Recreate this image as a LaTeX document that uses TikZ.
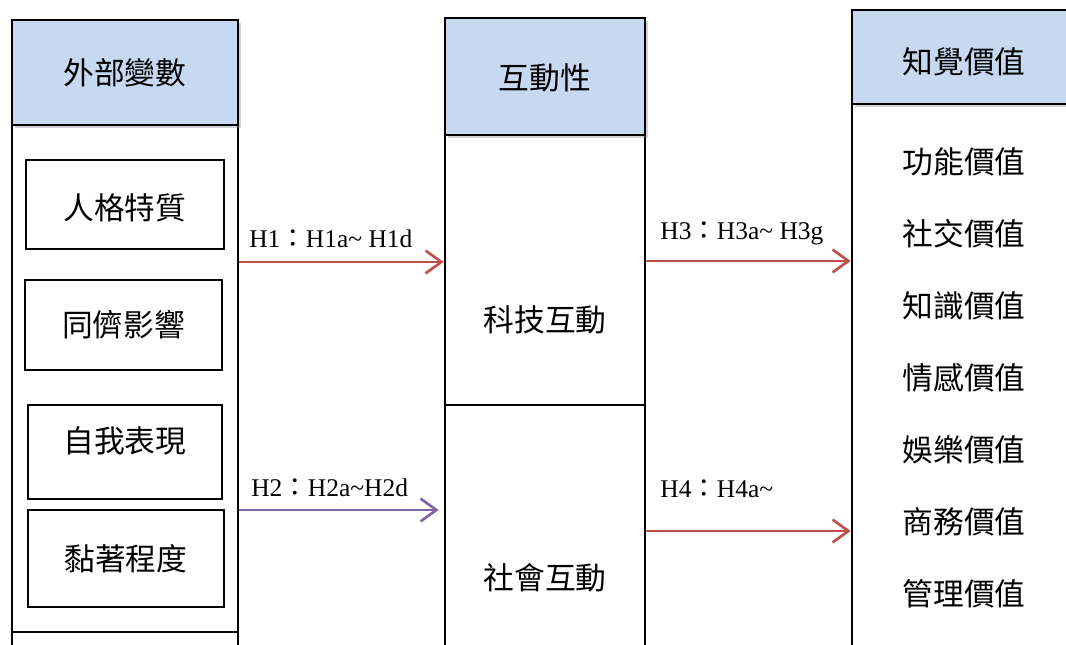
\documentclass[tikz,border=0pt]{standalone}
\usepackage{fontspec}
\setmainfont{Liberation Serif}
\newfontfamily\cjk{Noto Sans CJK TC}
\usetikzlibrary{fit,shadows,arrows.meta}
\definecolor{headblue}{HTML}{C6D9F0}
\definecolor{arrred}{HTML}{C0504D}
\definecolor{arrpurple}{HTML}{8064A2}
\begin{document}
\begin{tikzpicture}[x=0.02cm,y=-0.02cm,
  frame/.style={draw=black,line width=1.6pt,inner sep=0pt},
  head/.style={frame,fill=headblue,drop shadow={opacity=0.35,shadow xshift=1.5pt,shadow yshift=-1.5pt}},
  item/.style={draw=black,line width=1.4pt,inner sep=0pt},
  txt/.style={font=\cjk\fontsize{17.5}{20}\selectfont,inner sep=0pt},
  hyp/.style={font=\fontsize{14.5}{17}\selectfont,inner sep=0pt,anchor=west},
  link/.style={line width=1.5pt,-{Straight Barb[length=9pt,width=13pt,line width=1.5pt]}}]
\useasboundingbox (0,0) rectangle (1066,645);
\clip (0,0) rectangle (1066,645);
% left column
\node[frame,fit={(12,125)(238,632)}] (lbody) {};
\node[frame,fit={(12,632)(238,680)}] (lfoot) {};
\node[head,fit={(12,20)(238,125)}] (lhead) {};
\node[txt] (lheadt) at (125,73) {外部變數};
\node[item,fit={(26,160)(224,249)}] (b1) {};
\node[item,fit={(25,280)(222,370)}] (b2) {};
\node[item,fit={(28,405)(222,499)}] (b3) {};
\node[item,fit={(28,510)(224,607)}] (b4) {};
\node[txt] (b1t) at ([yshift=-0.02cm*3]b1.center) {人格特質};
\node[txt] (b2t) at (b2.center) {同儕影響};
\node[txt] (b3t) at ([yshift=0.02cm*11]b3.center) {自我表現};
\node[txt] (b4t) at (b4.center) {黏著程度};
% middle column
\node[frame,fit={(445,135)(645,405)}] (tech) {};
\node[frame,fit={(445,405)(645,680)}] (social) {};
\node[head,fit={(445,18)(645,135)}] (mhead) {};
\node[txt] (mheadt) at (545,78) {互動性};
\node[txt] (techt) at (545,320) {科技互動};
\node[txt] (socialt) at (545,578) {社會互動};
% right column
\node[frame,fit={(852,104)(1080,680)}] (rbody) {};
\node[head,fit={(852,10)(1076,104)}] (rhead) {};
\node[txt] (rheadt) at (964,62) {知覺價值};
\node[txt] (v1) at (964,162) {功能價值};
\node[txt] (v2) at (964,234) {社交價值};
\node[txt] (v3) at (964,306) {知識價值};
\node[txt] (v4) at (964,378) {情感價值};
\node[txt] (v5) at (964,450) {娛樂價值};
\node[txt] (v6) at (964,522) {商務價值};
\node[txt] (v7) at (964,594) {管理價值};
% connectors
\coordinate (y1) at (0,262);
\coordinate (y2) at (0,510);
\coordinate (y3) at (0,261);
\coordinate (y4) at (0,531);
\draw[link,arrred] (lbody.east |- y1) -- (tech.west |- y1);
\draw[link,arrpurple] (lbody.east |- y2) -- ([xshift=-5*0.02cm]social.west |- y2);
\draw[link,arrred] (tech.east |- y3) -- (rbody.west |- y3);
\draw[link,arrred] (social.east |- y4) -- (rbody.west |- y4);
% labels
\node[hyp] (l1) at (249,239) {H1{\cjk：}H1a\textasciitilde{} H1d};
\node[hyp] (l2) at (251,488) {H2{\cjk：}H2a\textasciitilde H2d};
\node[hyp] (l3) at (660,233) {H3{\cjk：}H3a\textasciitilde{} H3g};
\node[hyp] (l4) at (660,489) {H4{\cjk：}H4a\textasciitilde};
\end{tikzpicture}
\end{document}
